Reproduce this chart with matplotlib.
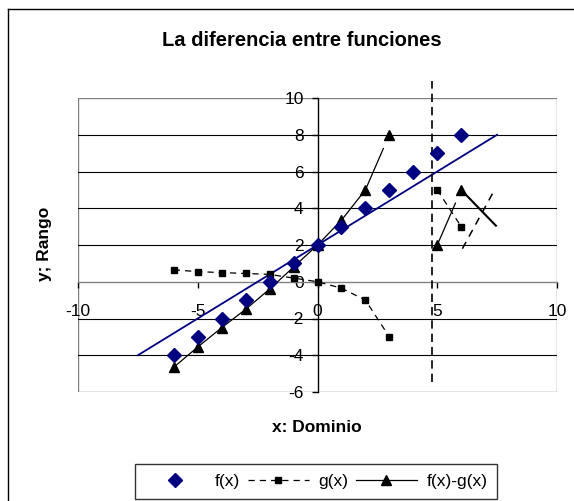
import matplotlib
matplotlib.use("Agg")
import matplotlib.pyplot as plt
from matplotlib.lines import Line2D
from matplotlib.patches import Rectangle
import numpy as np

plt.rcParams['font.family'] = ['Liberation Sans', 'DejaVu Sans']

# ---- data ----
f_x = [-6, -5, -4, -3, -2, -1, 0, 1, 2, 3, 4, 5, 6]
f_y = [-4, -3, -2, -1, 0, 1, 2, 3, 4, 5, 6, 7, 8]

trend_x = [-7.5, 7.5]
trend_y = [-4, 8]

g_x = [-6, -5, -4, -3, -2, -1, 0, 1, 2, 3]
g_y = [0.65, 0.55, 0.5, 0.45, 0.4, 0.2, 0.0, -0.35, -1.0, -3.0]
g2_x = [5, 6]
g2_y = [5, 3]

fg_x = [-6, -5, -4, -3, -2, -1, 0, 1, 2, 3]
fg_y = [-4.65, -3.55, -2.5, -1.5, -0.4, 0.8, 2.0, 3.35, 5.0, 8.0]
fg2_x = [5, 6]
fg2_y = [2, 5]

extra_solid_x = [6, 7.45]
extra_solid_y = [5, 3.05]
extra_dash_x = [6.05, 7.35]
extra_dash_y = [1.8, 4.9]

vline_x = 4.8
vline_y = [-5.45, 10.9]

x_ticks = [-10, -5, 0, 5, 10]
y_ticks = [-6, -4, -2, 0, 2, 4, 6, 8, 10]

title = "La diferencia entre funciones"
xlabel = "x: Dominio"
ylabel = "y; Rango"
legend_labels = ["f(x)", "g(x)", "f(x)-g(x)"]

W, H = 574, 501
fig = plt.figure(figsize=(W / 100, H / 100), dpi=100)
ax = fig.add_axes([78 / W, 109 / H, 479 / W, 294 / H])
ax.set_xlim(-10, 10)
ax.set_ylim(-6, 10)

# frame of plot area
for s in ['top', 'right']:
    ax.spines[s].set_visible(False)
ax.add_patch(Rectangle((0, 0), 1, 1, transform=ax.transAxes, fill=False,
                       edgecolor='#808080', lw=1.0, zorder=1))
ax.spines['left'].set_position(('data', 0))
ax.spines['bottom'].set_position(('data', 0))
ax.spines['left'].set_color('black')
ax.spines['bottom'].set_color('#808080')
ax.spines['left'].set_linewidth(1.0)
ax.spines['bottom'].set_linewidth(1.0)

for yv in y_ticks:
    if yv not in (0, y_ticks[0], y_ticks[-1]):
        ax.axhline(yv, color='black', lw=0.8, zorder=1)

ax.set_xticks(x_ticks)
ax.set_yticks(y_ticks)
ax.set_xticklabels([str(v) for v in x_ticks])
ax.set_yticklabels([str(v) for v in y_ticks])
ax.tick_params(axis='x', direction='out', length=4, width=1, pad=12,
               labelsize=12.5, color='black')
ax.tick_params(axis='y', direction='out', length=4, width=1, pad=6,
               labelsize=12.5, color='black')

# trend line
ax.plot(trend_x, trend_y, color='#000080', lw=1.3, zorder=3)

# f(x)
ax.plot(f_x, f_y, linestyle='none', marker='D', ms=7, color='#000080',
        zorder=5)

# g(x)
dash = (0, (5, 4))
ax.plot(g_x, g_y, color='black', lw=0.9, linestyle=dash, marker='s', ms=5,
        zorder=4)
ax.plot(g2_x, g2_y, color='black', lw=0.9, linestyle=dash, marker='s', ms=5,
        zorder=4)

# f(x)-g(x)
frac = 0.75
seg_x = fg_x[:-1] + [fg_x[-2] + frac * (fg_x[-1] - fg_x[-2])]
seg_y = fg_y[:-1] + [fg_y[-2] + frac * (fg_y[-1] - fg_y[-2])]
ax.plot(seg_x, seg_y, color='black', lw=0.9, zorder=4)
ax.plot(fg_x, fg_y, linestyle='none', marker='^', ms=6.5, color='black',
        zorder=4)
seg2_x = [fg2_x[0], fg2_x[0] + 0.76 * (fg2_x[1] - fg2_x[0])]
seg2_y = [fg2_y[0], fg2_y[0] + 0.76 * (fg2_y[1] - fg2_y[0])]
ax.plot(seg2_x, seg2_y, color='black', lw=0.9, zorder=4)
ax.plot(fg2_x, fg2_y, linestyle='none', marker='^', ms=6.5, color='black',
        zorder=4)

# extra segments
ax.plot(extra_solid_x, extra_solid_y, color='black', lw=1.5, zorder=4)
ax.plot(extra_dash_x, extra_dash_y, color='black', lw=1.1, linestyle=dash,
        zorder=4)

# vertical dashed line
ax.plot([vline_x, vline_x], vline_y, color='black', lw=1.2,
        linestyle=(0, (5, 3)), clip_on=False, zorder=4)

# texts
fig.text(302 / W, 1 - 40 / H, title, ha='center', va='center',
         fontsize=14.5, fontweight='bold')
fig.text(317 / W, 1 - 427 / H, xlabel, ha='center', va='center',
         fontsize=12.5, fontweight='bold')
fig.text(44 / W, 1 - 244 / H, ylabel, ha='center', va='center',
         fontsize=12.5, fontweight='bold', rotation=90)

# outer chart frame (left and top edges visible)
fig.add_artist(Line2D([8 / W, 8 / W], [0, 1 - 9 / H], transform=fig.transFigure,
                      color='black', lw=1.0))
fig.add_artist(Line2D([8 / W, 1], [1 - 9 / H, 1 - 9 / H],
                      transform=fig.transFigure, color='black', lw=1.0))

# legend
h1 = Line2D([], [], linestyle='none', marker='D', ms=7, color='#000080')
h2 = Line2D([], [], color='black', lw=0.9, linestyle=dash, marker='s', ms=5)
h3 = Line2D([], [], color='black', lw=0.9, marker='^', ms=6.5)
leg = fig.legend([h1, h2, h3], legend_labels, loc='center',
                 bbox_to_anchor=(316 / W, 1 - 481.5 / H), ncol=3,
                 fontsize=12.5, frameon=True, fancybox=False,
                 edgecolor='black', handlelength=3.5, handletextpad=0.55,
                 columnspacing=0.45, borderpad=0.55, borderaxespad=0)
leg.get_frame().set_linewidth(1.0)

fig.savefig('out.png', dpi=100)
